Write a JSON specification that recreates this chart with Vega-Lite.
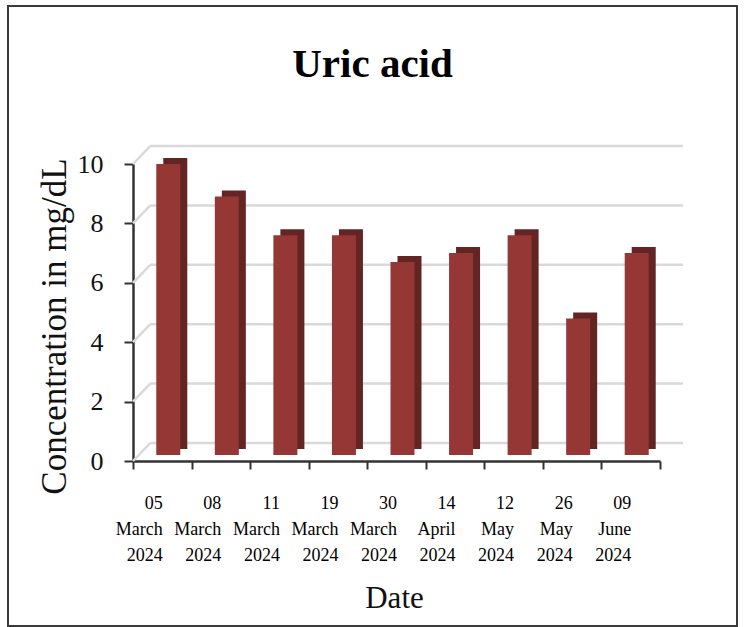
{
  "$schema": "https://vega.github.io/schema/vega-lite/v6.json",
  "width": 729,
  "height": 620,
  "autosize": {"type": "none"},
  "padding": {"left": 8, "top": 6, "right": 7, "bottom": 1},
  "background": "white",
  "title": {"text": "Uric acid", "fontSize": 41, "font": "Liberation Serif", "fontWeight": "bold", "color": "#000", "anchor": "middle", "baseline": "alphabetic", "offset": -112, "frame": "group"},
  "config": {"font": "Liberation Serif", "view": {"stroke": "#3a3a3a", "strokeWidth": 2}},
  "datasets": {
    "bars": [
      {"date": "05 March 2024", "value": 9.8},
      {"date": "08 March 2024", "value": 8.7},
      {"date": "11 March 2024", "value": 7.4},
      {"date": "19 March 2024", "value": 7.4},
      {"date": "30 March 2024", "value": 6.5},
      {"date": "14 April 2024", "value": 6.8},
      {"date": "12 May 2024", "value": 7.4},
      {"date": "26 May 2024", "value": 4.6},
      {"date": "09 June 2024", "value": 6.8}
    ],
    "grid": [{"g": 0}, {"g": 2}, {"g": 4}, {"g": 6}, {"g": 8}, {"g": 10}]
  },
  "layer": [
    {
      "data": {"name": "grid"},
      "mark": {"type": "rule", "color": "#d9d9d9", "strokeWidth": 2.5, "yOffset": -18},
      "encoding": {
        "y": {"field": "g", "type": "quantitative", "title": "Concentration in mg/dL"},
        "x": {"datum": "05 March 2024", "type": "nominal", "bandPosition": 0.295},
        "x2": {"datum": "09 June 2024", "bandPosition": 1.392}
      }
    },
    {
      "data": {"name": "grid"},
      "mark": {"type": "rule", "color": "#d9d9d9", "strokeWidth": 2.5, "y2Offset": -18},
      "encoding": {
        "y": {"field": "g", "type": "quantitative", "title": "Concentration in mg/dL"},
        "y2": {"field": "g"},
        "x": {"datum": "05 March 2024", "type": "nominal", "bandPosition": 0},
        "x2": {"datum": "05 March 2024", "bandPosition": 0.295}
      }
    },
    {
      "data": {"name": "bars"},
      "mark": {"type": "bar", "color": "#632523", "width": {"band": 0.41}, "xOffset": 13, "yOffset": -12, "y2Offset": -12},
      "encoding": {
        "x": {"field": "date", "type": "nominal", "sort": null, "title": "Date"},
        "y": {"field": "value", "type": "quantitative", "title": "Concentration in mg/dL"}
      }
    },
    {
      "data": {"name": "bars"},
      "mark": {"type": "bar", "color": "#953735", "width": {"band": 0.41}, "xOffset": 6, "yOffset": -6, "y2Offset": -6},
      "encoding": {
        "x": {
          "field": "date", "type": "nominal", "sort": null, "title": "Date",
          "scale": {
            "domain": ["05 March 2024", "08 March 2024", "11 March 2024", "19 March 2024", "30 March 2024", "14 April 2024", "12 May 2024", "26 May 2024", "09 June 2024"],
            "range": [125, 652], "paddingInner": 0, "paddingOuter": 0
          },
          "axis": {
            "offset": -165, "tickBand": "extent", "domainColor": "#333", "domainWidth": 2.5,
            "tickColor": "#333", "tickWidth": 2, "tickSize": 8,
            "labelExpr": "split(datum.label, ' ')", "labelFontSize": 18, "labelLineHeight": 26,
            "labelPadding": 34, "labelAngle": 0, "labelColor": "#000", "labelOverlap": false,
            "titleFontSize": 31, "titleFontWeight": "normal", "titleColor": "#111",
            "titleBaseline": "alphabetic", "titleY": 146, "titleX": 386
          }
        },
        "y": {
          "field": "value", "type": "quantitative", "title": "Concentration in mg/dL",
          "scale": {"domain": [0, 10], "range": [455, 158], "nice": false},
          "axis": {
            "offset": -125, "values": [0, 2, 4, 6, 8, 10], "format": "d", "grid": false,
            "domainColor": "#333", "domainWidth": 2.5, "tickColor": "#333", "tickWidth": 2, "tickSize": 9,
            "labelFontSize": 26, "labelPadding": 21, "labelColor": "#111",
            "titleFontSize": 35, "titleFontWeight": "normal", "titleColor": "#111",
            "titleX": -68, "titleY": 320, "titleAngle": -90, "titleBaseline": "alphabetic", "titleAlign": "center"
          }
        }
      }
    }
  ]
}
